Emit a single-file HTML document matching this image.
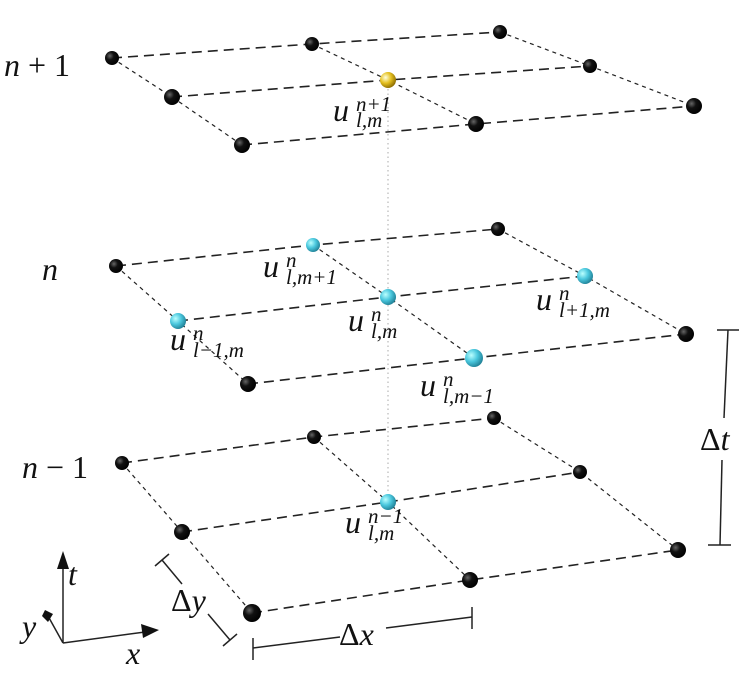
<!DOCTYPE html>
<html><head><meta charset="utf-8"><style>
html,body{margin:0;padding:0;background:#fff}
svg{display:block}
text{font-family:"Liberation Serif",serif;fill:#111}
.i{font-style:italic}
</style></head><body>
<svg width="744" height="682" viewBox="0 0 744 682" xmlns="http://www.w3.org/2000/svg">
<defs>
<radialGradient id="bk" cx="0.35" cy="0.35" r="0.7"><stop offset="0" stop-color="#666"/><stop offset="0.4" stop-color="#111"/><stop offset="1" stop-color="#000"/></radialGradient>
<radialGradient id="cy" cx="0.35" cy="0.35" r="0.7"><stop offset="0" stop-color="#bff"/><stop offset="0.5" stop-color="#4bc8de"/><stop offset="1" stop-color="#1f7f95"/></radialGradient>
<radialGradient id="ye" cx="0.35" cy="0.35" r="0.7"><stop offset="0" stop-color="#ffd"/><stop offset="0.5" stop-color="#e5c020"/><stop offset="1" stop-color="#8a6a00"/></radialGradient>
</defs>
<line x1="388" y1="80" x2="388" y2="502" stroke="#aaa" stroke-width="1" stroke-dasharray="1.5,3"/>
<g fill="none" stroke="#222">
<g stroke-width="1.6" stroke-dasharray="10,6">
<polyline points="112,58 312,44 500,32"/><polyline points="172,97 388,80 590,66"/><polyline points="242,145 476,124 694,106"/>
<polyline points="116,266 313,245 498,229"/><polyline points="178,321 388,297 585,276"/><polyline points="248,384 474,358 686,334"/>
<polyline points="122,463 314,437 494,418"/><polyline points="182,532 388,502 580,472"/><polyline points="252,613 470,580 678,550"/>
</g>
<g stroke-width="1.2" stroke-dasharray="4,4">
<polyline points="112,58 172,97 242,145"/><polyline points="312,44 388,80 476,124"/><polyline points="500,32 590,66 694,106"/>
<polyline points="116,266 178,321 248,384"/><polyline points="313,245 388,297 474,358"/><polyline points="498,229 585,276 686,334"/>
<polyline points="122,463 182,532 252,613"/><polyline points="314,437 388,502 470,580"/><polyline points="494,418 580,472 678,550"/>
</g>
<g stroke-width="1.5">
<line x1="728" y1="330" x2="724" y2="418"/><line x1="722" y1="460" x2="720" y2="545"/>
<line x1="717" y1="330" x2="739" y2="330"/><line x1="708" y1="545" x2="731" y2="545"/>
<line x1="253" y1="648" x2="340" y2="637"/><line x1="386" y1="628" x2="472" y2="617"/>
<line x1="253" y1="638" x2="253" y2="660"/><line x1="472" y1="607" x2="472" y2="629"/>
<line x1="162" y1="560" x2="182" y2="584"/><line x1="208" y1="614" x2="230" y2="640"/>
<line x1="155" y1="566" x2="169" y2="554"/><line x1="223" y1="646" x2="237" y2="634"/>
<line x1="63" y1="643" x2="63" y2="565"/><line x1="63" y1="643" x2="145" y2="632"/><line x1="63" y1="643" x2="48" y2="616"/>
</g>
</g>
<polygon points="63,551 57,569 69,569" fill="#111"/>
<polygon points="159,630 141,624 143,638" fill="#111"/>
<polygon points="45,610 53,614 48,622 42,616" fill="#111"/>
<g fill="url(#bk)">
<circle cx="112" cy="58" r="7"/><circle cx="312" cy="44" r="7"/><circle cx="500" cy="32" r="7"/>
<circle cx="172" cy="97" r="8"/><circle cx="590" cy="66" r="7"/>
<circle cx="242" cy="145" r="8"/><circle cx="476" cy="124" r="8"/><circle cx="694" cy="106" r="8"/>
<circle cx="116" cy="266" r="7"/><circle cx="498" cy="229" r="7"/>
<circle cx="248" cy="384" r="8"/><circle cx="686" cy="334" r="8"/>
<circle cx="122" cy="463" r="7"/><circle cx="314" cy="437" r="7"/><circle cx="494" cy="418" r="7"/>
<circle cx="182" cy="532" r="8"/><circle cx="580" cy="472" r="7"/>
<circle cx="252" cy="613" r="9"/><circle cx="470" cy="580" r="8"/><circle cx="678" cy="550" r="8"/>
</g>
<g fill="url(#cy)">
<circle cx="313" cy="245" r="7"/><circle cx="388" cy="297" r="8"/><circle cx="585" cy="276" r="8"/>
<circle cx="178" cy="321" r="8"/><circle cx="474" cy="358" r="9"/><circle cx="388" cy="502" r="8"/>
</g>
<circle cx="388" cy="80" r="8" fill="url(#ye)"/>
<g font-size="32">
<text x="4" y="76" class="i">n<tspan font-style="normal"> + 1</tspan></text>
<text x="42" y="280" class="i">n</text>
<text x="22" y="478" class="i">n<tspan font-style="normal"> − 1</tspan></text>
<text x="700" y="450">Δ<tspan class="i">t</tspan></text>
<text x="339" y="645">Δ<tspan class="i">x</tspan></text>
<text x="171" y="611">Δ<tspan class="i">y</tspan></text>
<text x="68" y="585" class="i">t</text>
<text x="126" y="664" class="i">x</text>
<text x="22" y="637" class="i">y</text>
</g>
<g font-size="32" class="i">
<text x="333" y="121">u</text><text x="356" y="111" font-size="21">n+1</text><text x="356" y="127" font-size="21">l,m</text>
<text x="263" y="277">u</text><text x="286" y="267" font-size="21">n</text><text x="286" y="284" font-size="21">l,m+1</text>
<text x="348" y="331">u</text><text x="371" y="321" font-size="21">n</text><text x="371" y="338" font-size="21">l,m</text>
<text x="536" y="310">u</text><text x="559" y="300" font-size="21">n</text><text x="559" y="317" font-size="21">l+1,m</text>
<text x="170" y="350">u</text><text x="193" y="340" font-size="21">n</text><text x="193" y="357" font-size="21">l−1,m</text>
<text x="420" y="396">u</text><text x="443" y="386" font-size="21">n</text><text x="443" y="403" font-size="21">l,m−1</text>
<text x="345" y="533">u</text><text x="368" y="523" font-size="21">n−1</text><text x="368" y="540" font-size="21">l,m</text>
</g>
</svg>
</body></html>
